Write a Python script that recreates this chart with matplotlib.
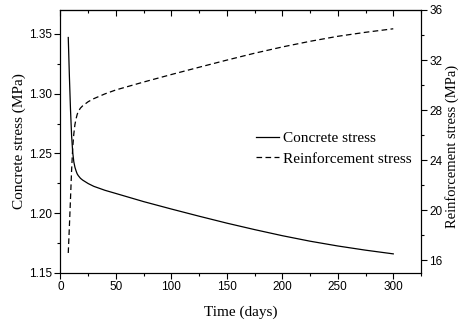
import matplotlib
matplotlib.use('Agg')
import matplotlib.pyplot as plt
from matplotlib.ticker import MultipleLocator, FormatStrFormatter

# values
days = [7, 8, 9, 10, 11, 12, 13, 14, 15, 16, 18, 20, 25, 30, 40, 50,
        75, 100, 125, 150, 175, 200, 225, 250, 275, 300]
concrete = [1.347, 1.315, 1.287, 1.265, 1.251, 1.243, 1.2385, 1.2355, 1.233, 1.2315,
            1.2292, 1.2277, 1.2248, 1.2225, 1.2192, 1.2165,
            1.2097, 1.2035, 1.1975, 1.1917, 1.1863, 1.1812, 1.1766, 1.1726, 1.1691, 1.166]
reinforcement = [16.6, 18.7, 20.9, 23.2, 25.0, 26.1, 26.85, 27.3, 27.65, 27.9,
                 28.17, 28.35, 28.68, 28.92, 29.3, 29.62,
                 30.25, 30.85, 31.43, 32.0, 32.55, 33.05, 33.5, 33.9, 34.22, 34.5]

serif = ['Liberation Serif', 'DejaVu Serif']
sans = ['Liberation Sans', 'DejaVu Sans']
plt.rcParams['font.family'] = sans
plt.rcParams['axes.linewidth'] = 0.8

fig = plt.figure(figsize=(4.6, 3.23), dpi=100)
ax = fig.add_axes([60.5 / 460, 50 / 323, 360.5 / 460, 263 / 323])
ax2 = ax.twinx()

l1, = ax.plot(days, concrete, color='black', lw=0.9, label='Concrete stress')
l2, = ax2.plot(days, reinforcement, color='black', lw=0.9, dashes=(4.5, 2.7),
               label='Reinforcement stress')

ax.set_xlim(0, 325)
ax.set_ylim(1.15, 1.37)
ax2.set_ylim(15, 36)

ax.xaxis.set_major_locator(MultipleLocator(50))
ax.xaxis.set_minor_locator(MultipleLocator(25))
ax.yaxis.set_major_locator(MultipleLocator(0.05))
ax.yaxis.set_minor_locator(MultipleLocator(0.025))
ax.yaxis.set_major_formatter(FormatStrFormatter('%.2f'))
ax2.yaxis.set_major_locator(MultipleLocator(4))
ax2.yaxis.set_minor_locator(MultipleLocator(2))

ax.tick_params(which='both', direction='out', width=0.8, labelsize=8.5,
               top=False, right=False, pad=2)
ax.tick_params(which='major', length=4)
ax.tick_params(which='minor', length=2.5)
ax2.tick_params(which='both', direction='out', width=0.8, labelsize=8.5, pad=2)
ax2.tick_params(which='major', length=4)
ax2.tick_params(which='minor', length=2.5)

# ticks along the top edge point inward
top = ax.secondary_xaxis('top')
top.xaxis.set_major_locator(MultipleLocator(50))
top.xaxis.set_minor_locator(MultipleLocator(25))
top.tick_params(which='both', direction='in', width=0.8, labeltop=False)
top.tick_params(which='major', length=4)
top.tick_params(which='minor', length=2.5)

ax.set_xlabel('Time (days)', family=serif, fontsize=11)
ax.set_ylabel('Concrete stress (MPa)', family=serif, fontsize=11)
ax2.set_ylabel('Reinforcement stress (MPa)', family=serif, fontsize=10.5)
ax.xaxis.set_label_coords(0.5, -0.125)
ax.yaxis.set_label_coords(-0.095, 0.5)
ax2.yaxis.set_label_coords(1.067, 0.48)

ax2.legend(handles=[l1, l2], loc='center left', frameon=False,
           bbox_to_anchor=(256 / 460, 1 - 148.5 / 323), bbox_transform=fig.transFigure,
           prop={'family': serif, 'size': 11}, handlelength=1.5,
           handletextpad=0.3, labelspacing=0.45, borderpad=0, borderaxespad=0)

fig.savefig('out.png', dpi=100)
